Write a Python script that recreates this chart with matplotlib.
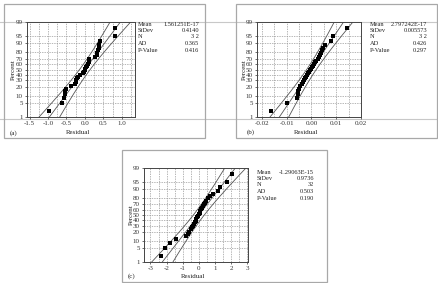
import numpy as np
import matplotlib
matplotlib.use('Agg')
import matplotlib.pyplot as plt
from matplotlib.patches import Rectangle
from matplotlib.lines import Line2D
from statistics import NormalDist

plt.rcParams['font.family'] = ['Liberation Serif', 'DejaVu Serif']

# sorted residuals
resid_a = [-0.98, -0.62, -0.57, -0.55, -0.53, -0.51, -0.38, -0.27, -0.25, -0.23, -0.21,
           -0.19, -0.13, -0.04, -0.02, 0.00, 0.01, 0.02, 0.07, 0.09, 0.10, 0.11, 0.12,
           0.28, 0.32, 0.34, 0.36, 0.37, 0.39, 0.42, 0.83, 0.83]
resid_b = [-0.0165, -0.0098, -0.0058, -0.0056, -0.0054, -0.0050, -0.0045, -0.0040,
           -0.0035, -0.0030, -0.0026, -0.0022, -0.0018, -0.0013, -0.0008, -0.0004,
           0.0000, 0.0004, 0.0008, 0.0012, 0.0016, 0.0020, 0.0025, 0.0030, 0.0034,
           0.0038, 0.0043, 0.0047, 0.0053, 0.0080, 0.0088, 0.0142]
resid_c = [-2.37, -2.09, -1.78, -1.42, -0.80, -0.68, -0.60, -0.50, -0.42, -0.36, -0.30,
           -0.25, -0.20, -0.15, -0.10, -0.05, 0.00, 0.05, 0.10, 0.15, 0.20, 0.25, 0.30,
           0.38, 0.45, 0.55, 0.68, 0.90, 1.20, 1.30, 1.72, 2.05]

# summary statistics printed next to each plot
means = [1.561251e-17, 2.797242e-17, -1.29063e-15]
mean_labels = ['1.561251E-17', '2.797242E-17', '-1.29063E-15']
stdevs = ['0.4140', '0.005573', '0.9736']
n_labels = ['3 2', '3 2', '32']
ad_values = ['0.365', '0.426', '0.503']
p_values = ['0.416', '0.297', '0.190']

panel_tags = ['(a)', '(b)', '(c)']
xticks_list = [[-1.5, -1.0, -0.5, 0.0, 0.5, 1.0],
               [-0.02, -0.01, 0.00, 0.01, 0.02],
               [-3, -2, -1, 0, 1, 2, 3]]
xtick_labels = [['-1.5', '-1.0', '-0.5', '0.0', '0.5', '1.0'],
                ['-0.02', '-0.01', '0.00', '0.01', '0.02'],
                ['-3', '-2', '-1', '0', '1', '2', '3']]
xlims = [(-1.57, 1.36), (-0.022, 0.020), (-3.4, 3.05)]
xgrid_step = [0.25, 0.005, 0.5]
pct_ticks = [1, 5, 10, 20, 30, 40, 50, 60, 70, 80, 90, 95, 99]

W, H = 438, 283
fig = plt.figure(figsize=(W / 100, H / 100), dpi=100)

def fx(px):
    return px / W

def fy(py):
    return 1 - py / H

# pixel layout: frame box, plot box, text anchors
frames = [(4, 4, 205, 138), (236, 4, 437, 138), (122, 150, 327, 282)]
plots = [(27, 22, 135, 117), (257, 22, 361, 117), (144, 168, 248, 262)]
stat_cols = [(138, 199, 24), (370, 427, 24), (257, 314, 172)]
tag_pos = [(10, 133), (247, 132), (128, 276)]
ylab_x = [13, 244, 131]

# gray scan lines crossing the top row
for yy in (22, 119):
    fig.add_artist(Line2D([0, 1], [fy(yy), fy(yy)], color='#c8c8c8', lw=0.8,
                          transform=fig.transFigure, zorder=0))

nd = NormalDist()
fs = 5.0
fs_stats = 4.6
resids = [resid_a, resid_b, resid_c]

for k in range(3):
    x0, y0, x1, y1 = frames[k]
    fig.add_artist(Rectangle((fx(x0), fy(y1)), fx(x1) - fx(x0), fy(y0) - fy(y1),
                             transform=fig.transFigure, fill=False,
                             edgecolor='#a8a8a8', lw=0.9))

    px0, py0, px1, py1 = plots[k]
    ax = fig.add_axes([fx(px0), fy(py1), fx(px1) - fx(px0), fy(py0) - fy(py1)])

    data = np.array(resids[k])
    n = len(data)
    ranks = np.arange(1, n + 1)
    z_pts = np.array([nd.inv_cdf(p) for p in (ranks - 0.3) / (n + 0.4)])

    mu = means[k]
    sd = float(stdevs[k])
    zz = np.linspace(nd.inv_cdf(0.005), nd.inv_cdf(0.995), 200)
    fit = mu + sd * zz
    half = 1.96 * sd * np.sqrt(1 / n + zz ** 2 / (2 * (n - 1)))
    for line in (fit, fit - half, fit + half):
        ax.plot(line, zz, color='#555555', lw=0.6)
    ax.plot(data, z_pts, 's', color='black', ms=2.3, mew=0)

    # dashed grid
    step = xgrid_step[k]
    gx = np.arange(np.ceil(xlims[k][0] / step) * step, xlims[k][1], step)
    for g in gx:
        ax.axvline(g, color='#9a9a9a', lw=0.5, ls=(0, (2, 1.5)), zorder=0)
    for p in pct_ticks[1:-1]:
        ax.axhline(nd.inv_cdf(p / 100), color='#9a9a9a', lw=0.5, ls=(0, (2, 1.5)), zorder=0)

    ax.set_xlim(*xlims[k])
    ax.set_ylim(nd.inv_cdf(0.01), nd.inv_cdf(0.99))
    ax.set_xticks(xticks_list[k])
    ax.set_xticklabels(xtick_labels[k])
    ax.set_yticks([nd.inv_cdf(p / 100) for p in pct_ticks])
    ax.set_yticklabels([str(p) for p in pct_ticks])
    ax.tick_params(labelsize=fs, length=1.5, width=0.5, pad=1.5, colors='#333333')
    for s in ax.spines.values():
        s.set_linewidth(0.7)
        s.set_color('#444444')

    # stats block
    lx, rx, ty = stat_cols[k]
    rows = [('Mean', mean_labels[k]), ('StDev', stdevs[k]), ('N', n_labels[k]),
            ('AD', ad_values[k]), ('P-Value', p_values[k])]
    for j, (lab, val) in enumerate(rows):
        yy = ty + j * 6.5
        fig.text(fx(lx), fy(yy), lab, fontsize=fs_stats, ha='left', va='center', color='#222222')
        fig.text(fx(rx), fy(yy), val, fontsize=fs_stats, ha='right', va='center', color='#222222')

    tx, tyy = tag_pos[k]
    fig.text(fx(tx), fy(tyy), panel_tags[k], fontsize=fs, ha='left', va='center', color='#222222')
    fig.text(fx((px0 + px1) / 2 - 3), fy(tyy), 'Residual', fontsize=fs, ha='center',
             va='center', color='#222222')
    fig.text(fx(ylab_x[k]), fy((py0 + py1) / 2), 'Percent', fontsize=fs, rotation=90,
             ha='center', va='center', color='#222222')

fig.savefig('out.png', dpi=100)
